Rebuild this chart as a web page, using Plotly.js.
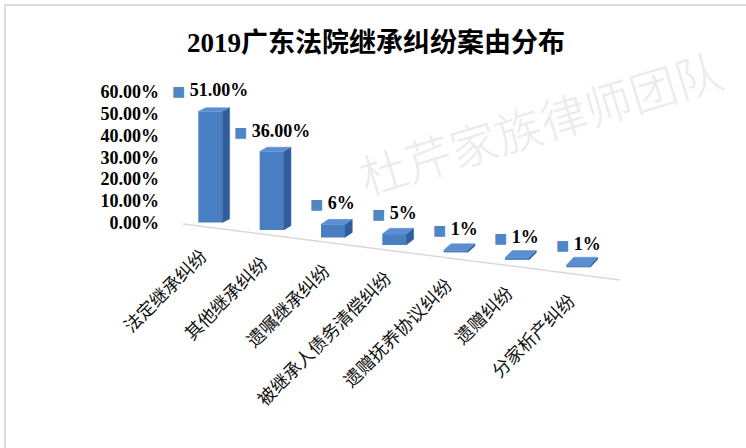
<!DOCTYPE html>
<html>
<head>
<meta charset="utf-8">
<script src="https://cdn.plot.ly/plotly-3.0.1.min.js"></script>
<style>
  html, body { margin: 0; padding: 0; background: #ffffff; }
  #chart { width: 746px; height: 448px; position: relative; }
  #frame { position: absolute; left: 4px; top: 4px; width: 800px; height: 500px;
           border-left: 2px solid #dcdcdc; border-top: 2px solid #dcdcdc; pointer-events: none; }
</style>
</head>
<body>
<div id="chart"></div>
<div id="frame"></div>
<script>
// ---- data ----
const categories = ['法定继承纠纷', '其他继承纠纷', '遗嘱继承纠纷', '被继承人债务清偿纠纷', '遗赠抚养协议纠纷', '遗赠纠纷', '分家析产纠纷'];
const shares = [51, 36, 6, 5, 1, 1, 1];
const shareLabels = ['51.00%', '36.00%', '6%', '5%', '1%', '1%', '1%'];
const yTickVals = [0, 10, 20, 30, 40, 50, 60];
const yTickText = ['0.00%', '10.00%', '20.00%', '30.00%', '40.00%', '50.00%', '60.00%'];
const titleText = '2019广东法院继承纠纷案由分布';
const watermarkText = '杜芹家族律师团队';

// ---- pseudo-3D geometry (style parameters) ----
const FLOOR_DROP = 3.42;   // floor slope, % per category
const BAR_W = 0.39;        // front face width (category units)
const DEPTH_X = 0.12;      // side/top depth offset (category units)
const DEPTH_Y0 = 1.7;      // top depth (% units) for the nearest bar
const DEPTH_Y_STEP = 0.32; // perspective: farther bars show more of their top
const FRONT = '#4a7ec3', SIDE = '#2f5d9b', TOP = '#5a8ed0', SQUARE = '#4f86c6';
const SERIF = '"Liberation Serif", "Times New Roman", "Noto Sans CJK SC", serif';
const CJK = '"Noto Sans CJK SC", "Liberation Serif", sans-serif';

const idx = categories.map((_, i) => i);
const bases = idx.map(i => -FLOOR_DROP * i);
const tops = idx.map(i => bases[i] + shares[i]);

const sideX = [], sideY = [], topX = [], topY = [];
idx.forEach(i => {
  const r = i + BAR_W / 2, l = i - BAR_W / 2;
  const dy = DEPTH_Y0 + DEPTH_Y_STEP * i;
  sideX.push(r, r + DEPTH_X, r + DEPTH_X, r, r, null);
  sideY.push(bases[i], bases[i] + dy, tops[i] + dy, tops[i], bases[i], null);
  topX.push(l, r, r + DEPTH_X, l + DEPTH_X, l, null);
  topY.push(tops[i], tops[i], tops[i] + dy, tops[i] + dy, tops[i], null);
});

// floor front edge
const floorX = [-0.445, 6.68];
const floorY = floorX.map(x => -2.24 - 3.6 * x);

const traces = [
  { type: 'scatter', mode: 'lines', x: floorX, y: floorY,
    line: { color: '#d9d9d9', width: 1.5 }, hoverinfo: 'skip', showlegend: false },
  { type: 'bar', x: idx, y: shares, base: bases, width: BAR_W,
    marker: { color: FRONT, line: { width: 0 } }, hoverinfo: 'skip', showlegend: false },
  { type: 'scatter', mode: 'lines', x: sideX, y: sideY, fill: 'toself', fillcolor: SIDE,
    line: { color: SIDE, width: 0.5 }, hoverinfo: 'skip', showlegend: false },
  { type: 'scatter', mode: 'lines', x: topX, y: topY, fill: 'toself', fillcolor: TOP,
    line: { color: TOP, width: 0.5 }, hoverinfo: 'skip', showlegend: false }
];

const annotations = [];
annotations.push({
  xref: 'paper', yref: 'paper', x: 0.763, y: 0.766, xanchor: 'center', yanchor: 'middle',
  text: watermarkText, showarrow: false, textangle: -17,
  font: { family: CJK, size: 47, color: '#ebebeb', weight: 300 }
});
idx.forEach(i => {
  annotations.push({
    xref: 'x', yref: 'y', x: i, y: tops[i], xanchor: 'center', yanchor: 'middle', yshift: 21,
    showarrow: false,
    text: '<span style="color:' + SQUARE + ';font-family:DejaVu Sans;font-size:14px">■</span> ' + shareLabels[i],
    font: { family: SERIF, size: 18, color: '#000000', weight: 'bold' }
  });
  annotations.push({
    xref: 'x', yref: 'y', x: i, y: bases[i], xanchor: 'right', yanchor: 'top',
    xshift: 4, yshift: -17, textangle: -45, showarrow: false,
    text: categories[i],
    font: { family: CJK, size: 18, color: '#111111' }
  });
});

const layout = {
  width: 746, height: 448,
  margin: { l: 160, r: 88, t: 70, b: 160, pad: 0 },
  paper_bgcolor: 'rgba(0,0,0,0)', plot_bgcolor: 'rgba(0,0,0,0)',
  title: {
    text: titleText, xref: 'container', yref: 'container', x: 0.504, y: 0.906,
    xanchor: 'center', yanchor: 'middle',
    font: { family: SERIF, size: 27, color: '#000000', weight: 'bold' }
  },
  xaxis: { range: [-0.82, 7.3], showticklabels: false, showgrid: false, zeroline: false,
           showline: false, ticks: '', fixedrange: true },
  yaxis: { range: [-30, 70], tickvals: yTickVals, ticktext: yTickText, showgrid: false,
           zeroline: false, showline: false, ticks: '', fixedrange: true,
           tickfont: { family: SERIF, size: 18, color: '#000000', weight: 'bold' } },
  annotations: annotations,
  hovermode: false, showlegend: false
};

Plotly.newPlot('chart', traces, layout, { displayModeBar: false, staticPlot: true });
</script>
</body>
</html>
